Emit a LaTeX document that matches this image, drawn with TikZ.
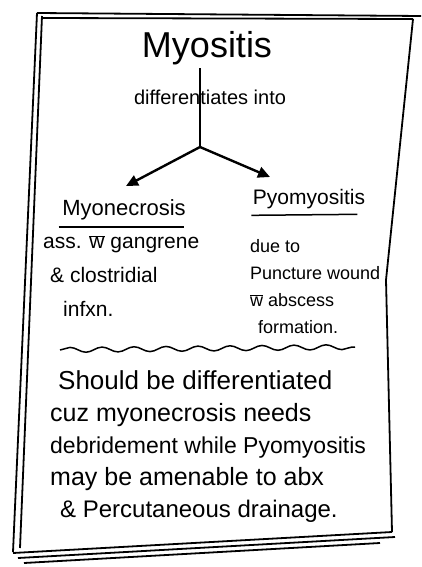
\documentclass[tikz,border=0pt]{standalone}
\usepackage{fontspec}
\setmainfont{Liberation Sans}
\usepackage{tikz}
\usetikzlibrary{arrows,arrows.meta,positioning,decorations.pathmorphing}
\tikzset{frame/.style={color=black, line width=1.8pt},
         branch/.style={color=black, line width=2.4pt, -{Triangle[length=12pt,width=11pt]}},
         note/.style={anchor=north west, inner sep=0pt, align=left}}
\newcommand{\wbar}{\ensuremath{\overline{\hbox{w}}}}
\newcommand{\sz}[1]{\fontsize{#1}{#1}\selectfont}

\begin{document}
\begin{tikzpicture}[x=1pt, y=-1pt]
                \useasboundingbox (0,0) rectangle (422,567);

                % sketchy frame
                \draw[frame] (37,13) -- (421,16);
                \draw[frame] (42,18) -- (413,19);
                \draw[frame] (37,13) -- (13,552);
                \draw[frame] (42,16) -- (20,548);
                \draw[frame] (413,19) -- (386,280) -- (392,532);
                \draw[frame] (13,553) -- (392,532);
                \draw[frame] (18,558) -- (395,537);
                \draw[frame] (24,563) -- (380,543);

                % heading and branches
                \node (myo) at (207,48) {\sz{36}Myositis};
                \node (diff) at (210,97) {\sz{20}differentiates into};
                \coordinate (split) at (200,147);
                \node (necro) at (124,210) {\sz{22}Myonecrosis};
                \node (pyo) at (309,199) {\sz{21}Pyomyositis};

                \draw[color=black, line width=1.8pt] (myo.south) ++(-7,0) -- (split);
                \path[branch] (split) edge (126,186)
                    (split) edge (270,177);

                \draw[line width=1.5pt] (necro.south west) ++(0,3) -- ++(125,0);
                \draw[line width=1.5pt] (pyo.south west) ++(2,3) -- ++(106,-1);

                % details under each branch
                \node[note, font=\fontsize{21}{34}\selectfont] (cause) at (43,235) {%
                    ass. \wbar{} gangrene\\
                    \hspace{7pt}\& clostridial\\
                    \hspace{20pt}infxn.};
                \node[note, font=\fontsize{18}{27}\selectfont] (source) at (250,239) {%
                    due to\\
                    Puncture wound\\
                    \wbar{} abscess\\
                    \hspace{8pt}formation.};

                \draw[line width=1.5pt, decorate,
                    decoration={snake, segment length=32pt, amplitude=2.5pt}]
                    (60,350) -- (355,347);

                % conclusion
                \node[note, font=\fontsize{24}{32}\selectfont] (reason) at (50,370) {%
                    \hspace{8pt}\sz{26}Should be differentiated\\
                    \sz{25}cuz myonecrosis needs\\
                    \sz{23}debridement while Pyomyositis\\
                    \sz{25}may be amenable to abx\\
                    \hspace{10pt}\sz{24}\& Percutaneous drainage.};

            \end{tikzpicture}
\end{document}
